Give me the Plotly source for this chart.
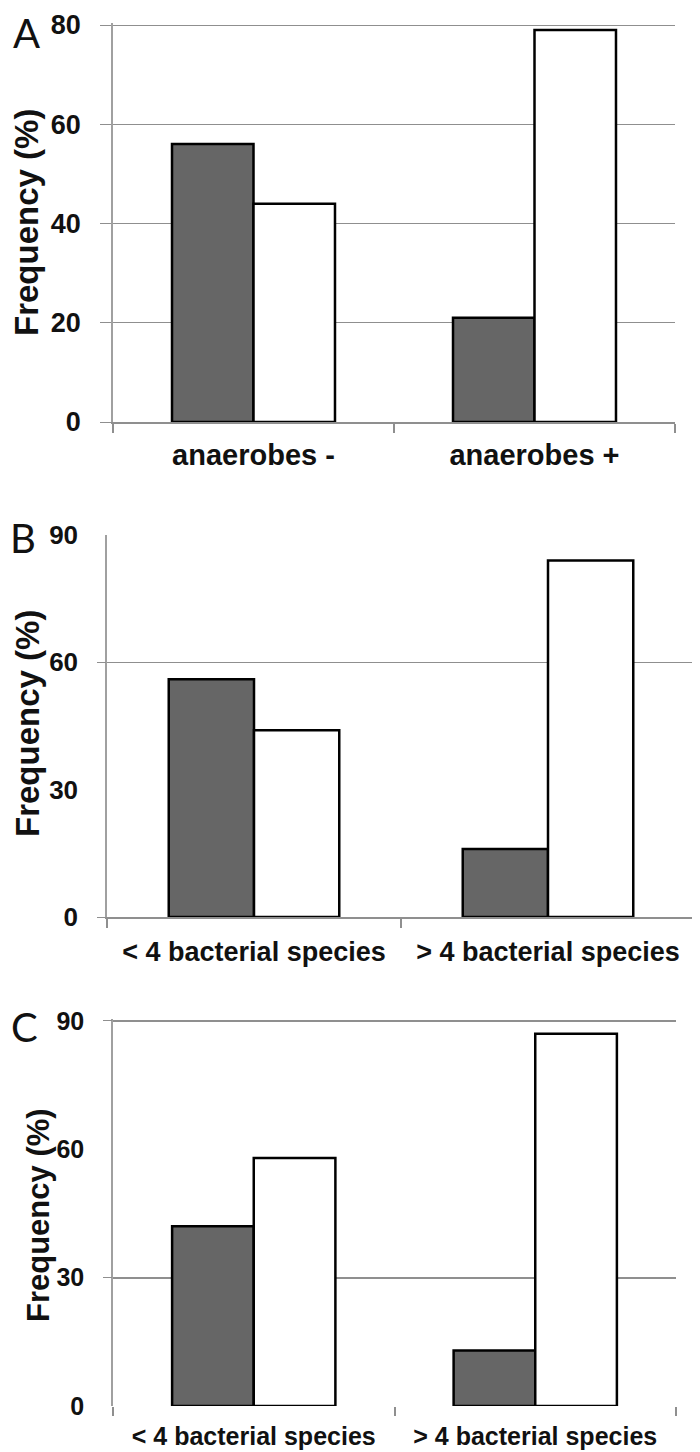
import plotly.graph_objects as go

# ---- data ----
categories_A = ["anaerobes -", "anaerobes +"]
categories_BC = ["< 4 bacterial species", "> 4 bacterial species"]

A_dark = [56, 21]
A_white = [44, 79]
B_dark = [56, 16]
B_white = [44, 84]
C_dark = [42, 13]
C_white = [58, 87]

yticks_A = [0, 20, 40, 60, 80]
yticks_BC = [0, 30, 60, 90]
grid_B = [0, 60]
grid_C = [30, 90]

W, H = 700, 1452
DARK = "#666666"
GRID = "#8f8f8f"
AXIS = "#a0a0a0"
FAM = "Liberation Sans, Arial, sans-serif"


def tfont(size):
    return dict(family=FAM, size=size, color="#111111", weight="bold")


def px_dom_x(a, b):
    return [a / W, b / W]


def px_dom_y(top, bottom):
    return [1 - bottom / H, 1 - top / H]


def dom_for(val_top_px, zero_px, vmax, vtop):
    # domain whose value vmax sits at val_top_px and 0 at zero_px, range extended to vtop
    k = (zero_px - val_top_px) / vmax
    return px_dom_y(zero_px - k * vtop, zero_px)


fig = go.Figure()

panels = [
    ("x", "y", categories_A, A_dark, A_white),
    ("x2", "y2", categories_BC, B_dark, B_white),
    ("x3", "y3", categories_BC, C_dark, C_white),
]
for xa, ya, cats, dark, white in panels:
    fig.add_trace(go.Bar(x=cats, y=dark, xaxis=xa, yaxis=ya, name="Series 1",
                         marker=dict(color=DARK, line=dict(color="black", width=2.5)),
                         showlegend=False))
    fig.add_trace(go.Bar(x=cats, y=white, xaxis=xa, yaxis=ya, name="Series 2",
                         marker=dict(color="white", line=dict(color="black", width=2.5)),
                         showlegend=False))

# empty helper traces so the overlay (gridline-only) axes get drawn
fig.add_trace(go.Scatter(x=[], y=[], xaxis="x2", yaxis="y4", showlegend=False, hoverinfo="skip"))
fig.add_trace(go.Scatter(x=[], y=[], xaxis="x3", yaxis="y5", showlegend=False, hoverinfo="skip"))


def xax(dom, anchor, showline, ticklen, fsize, standoff):
    return dict(domain=dom, anchor=anchor, type="category", tickson="boundaries",
                ticks="outside", tickcolor=GRID, tickwidth=1.5, ticklen=ticklen,
                showline=showline, linecolor=GRID, linewidth=1.5,
                showgrid=False, zeroline=False, automargin=False, fixedrange=True,
                tickfont=tfont(fsize), ticklabelstandoff=standoff)


A_top = 80.4
C_top = 90.4
dom_A = dom_for(17, 414, 80, A_top)
dom_B = px_dom_y(527, 909)
dom_C = dom_for(1013, 1398, 90, C_top)

fig.update_layout(
    template="none",
    width=W, height=H, autosize=False,
    margin=dict(l=0, r=0, t=0, b=0, pad=0),
    paper_bgcolor="white", plot_bgcolor="white",
    barmode="group", bargap=0.42, bargroupgap=0,
    showlegend=False,
    # Panel A
    xaxis=xax(px_dom_x(105, 667), "y", True, 9, 29, 6),
    yaxis=dict(domain=dom_A, anchor="x", range=[0, A_top], tickvals=yticks_A,
               showgrid=True, gridcolor=GRID, gridwidth=1.2, zeroline=False,
               showline=True, linecolor=AXIS, linewidth=1.5, automargin=False,
               ticks="outside", ticklen=11, tickcolor=GRID, tickwidth=1.2,
               tickfont=tfont(27), ticklabelstandoff=14, ticklabeloverflow="allow"),
    # Panel B
    xaxis2=xax(px_dom_x(99, 687), "y2", True, 9, 27, 10),
    yaxis2=dict(domain=dom_B, anchor="x2", range=[0, 90], tickvals=yticks_BC,
                showgrid=False, zeroline=False, showline=True, linecolor=AXIS, linewidth=1.5,
                automargin=False, ticks="", tickfont=tfont(26), ticklabelstandoff=22,
                ticklabeloverflow="allow"),
    yaxis4=dict(domain=dom_B, anchor="x2", overlaying="y2", range=[0, 90],
                tickvals=grid_B, showgrid=True, gridcolor=GRID, gridwidth=1.2, zeroline=False,
                showline=False, ticks="outside", ticklen=9, tickcolor=GRID, tickwidth=1.2,
                showticklabels=False, automargin=False),
    # Panel C
    xaxis3=xax(px_dom_x(105, 668), "y3", False, 9, 25, 13),
    yaxis3=dict(domain=dom_C, anchor="x3", range=[0, C_top], tickvals=yticks_BC,
                showgrid=False, zeroline=False, showline=True, linecolor=AXIS, linewidth=1.5,
                automargin=False, ticks="", tickfont=tfont(25), ticklabelstandoff=22,
                ticklabeloverflow="allow"),
    yaxis5=dict(domain=dom_C, anchor="x3", overlaying="y3", range=[0, C_top],
                tickvals=grid_C, showgrid=True, gridcolor=GRID, gridwidth=1.6, zeroline=False,
                showline=False, ticks="outside", ticklen=9, tickcolor=GRID, tickwidth=1.2,
                showticklabels=False, automargin=False),
)

title_font = dict(family=FAM, size=33, color="#111111", weight="bold")
letter_font = dict(family="Lato, Open Sans, sans-serif", size=40, color="#111111")

annotations = [
    dict(text="Frequency (%)", x=19 / W, y=1 - 215 / H, textangle=-90, font=title_font,
         yanchor="middle"),
    dict(text="Frequency (%)", x=19 / W, y=1 - 716 / H, textangle=-90, font=title_font,
         yanchor="middle"),
    dict(text="Frequency (%)", x=30 / W, y=1 - 1207 / H, textangle=-90,
         font=dict(family=FAM, size=31, color="#111111", weight="bold"), yanchor="middle"),
    dict(text="A", x=18 / W, y=1.0, font=letter_font, yanchor="top", borderpad=0),
    dict(text="B", x=15 / W, y=1 - 530 / H, font=letter_font, yanchor="middle"),
    dict(text="C", x=16 / W, y=1 - 1019 / H, font=letter_font, yanchor="middle"),
]
for a in annotations:
    a.update(xref="paper", yref="paper", showarrow=False, xanchor="center")
fig.update_layout(annotations=annotations)

fig.write_html("out.html")
